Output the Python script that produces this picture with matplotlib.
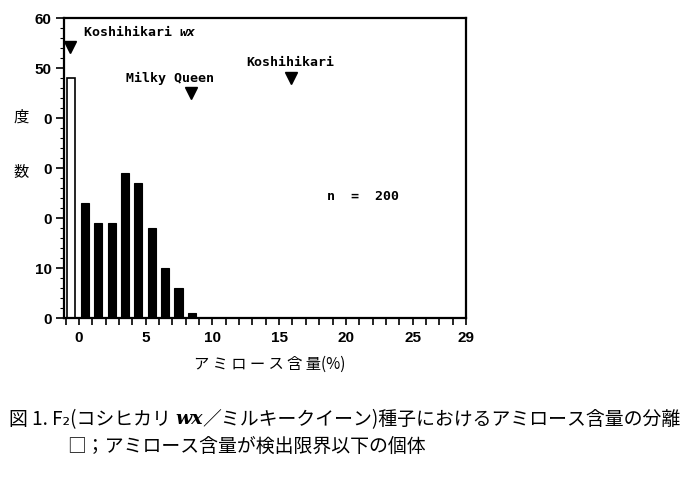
import matplotlib
matplotlib.use("Agg")
import matplotlib.pyplot as plt
from matplotlib.ticker import FixedLocator, MultipleLocator, FixedFormatter

# ---- data ----
bin_centers = [0.45, 1.45, 2.45, 3.45, 4.45, 5.45, 6.45, 7.45, 8.45]
counts = [23, 19, 19, 29, 27, 18, 10, 6, 1]
undetected_x = [-0.62]
undetected_count = [48]

parent_names = ["Koshihikari wx", "Milky Queen", "Koshihikari"]
parent_x = [-0.7, 8.4, 15.9]
parent_y = [54.2, 45.0, 48.0]

xtick_vals = [0, 5, 10, 15, 20, 25, 29]
xtick_labels = ["0", "5", "10", "15", "20", "25", "29"]
ytick_vals = [0, 10, 20, 30, 40, 50, 60]
ytick_labels = ["0", "10", "0", "0", "0", "50", "60"]

JP = ["Noto Sans CJK JP", "DejaVu Sans"]
MONO = "DejaVu Sans Mono"

fig = plt.figure(figsize=(7, 4.8), dpi=100)
ax = fig.add_axes([64/700, 1-318/480, 402/700, 300/480])

ax.bar(bin_centers, counts, width=0.62, color="black", edgecolor="black", linewidth=0.8)
ax.bar(undetected_x, undetected_count, width=0.6, color="white", edgecolor="black", linewidth=1.2)

ax.plot(parent_x, parent_y, linestyle="none", marker="v", color="black", markersize=8)

ax.set_xlim(-1.12, 29)
ax.set_ylim(0, 60)

ax.xaxis.set_major_locator(FixedLocator(xtick_vals))
ax.xaxis.set_major_formatter(FixedFormatter(xtick_labels))
ax.xaxis.set_minor_locator(MultipleLocator(1))
ax.yaxis.set_major_locator(FixedLocator(ytick_vals))
ax.yaxis.set_major_formatter(FixedFormatter(ytick_labels))
ax.yaxis.set_minor_locator(MultipleLocator(2))

ax.tick_params(axis="x", which="both", direction="out", length=5, width=1.2, pad=4)
ax.tick_params(axis="y", which="major", direction="out", length=6, width=1.2, pad=3)
ax.tick_params(axis="y", which="minor", direction="out", length=3, width=0.8)
for lab in ax.get_xticklabels() + ax.get_yticklabels():
    lab.set_fontfamily("Liberation Sans")
    lab.set_fontsize(11)
    lab.set_fontweight("bold")

for sp in ax.spines.values():
    sp.set_linewidth(1.6)

# annotations
t1 = ax.text(0.35, 57, "Koshihikari ", family=MONO, fontsize=9.5, fontweight="bold",
             ha="left", va="center")
ax.annotate("wx", xy=(1, 0), xycoords=t1, family=MONO, fontsize=9.5, fontweight="bold",
            fontstyle="italic", ha="left", va="bottom")
ax.text(6.8, 48, parent_names[1], family=MONO, fontsize=9.5, fontweight="bold",
        ha="center", va="center")
ax.text(15.8, 51.2, parent_names[2], family=MONO, fontsize=9.5, fontweight="bold",
        ha="center", va="center")
ax.text(21.3, 24.2, "n  =  200", family=MONO, fontsize=9.5, fontweight="bold",
        ha="center", va="center")

# axis labels
fig.text(21/700, 1-117/480, "度", family=JP, fontsize=11, ha="center", va="center")
fig.text(21/700, 1-172/480, "数", family=JP, fontsize=11, ha="center", va="center")
fig.text(270/700, 1-364/480, "ア ミ ロ ー ス 含 量(%)", family=JP, fontsize=11,
         ha="center", va="center")

# caption
CAP = 13.6
c1 = fig.text(9/700, 1-420/480, "図 1. F₂(コシヒカリ ", family=JP, fontsize=CAP,
              ha="left", va="center")
w = ax.annotate("wx", xy=(1, 0.12), xycoords=c1, family="DejaVu Serif", fontsize=CAP,
                fontweight="bold", fontstyle="italic", ha="left", va="bottom",
                annotation_clip=False)
ax.annotate("／ミルキークイーン)種子におけるアミロース含量の分離", xy=(1, 0), xycoords=w,
            xytext=(0, -1.5), textcoords="offset points",
            family=JP, fontsize=CAP, ha="left", va="bottom", annotation_clip=False)
fig.text(67/700, 1-446/480, "□；アミロース含量が検出限界以下の個体", family=JP, fontsize=CAP,
         ha="left", va="center")

fig.savefig("out.png", dpi=100, facecolor="white")
